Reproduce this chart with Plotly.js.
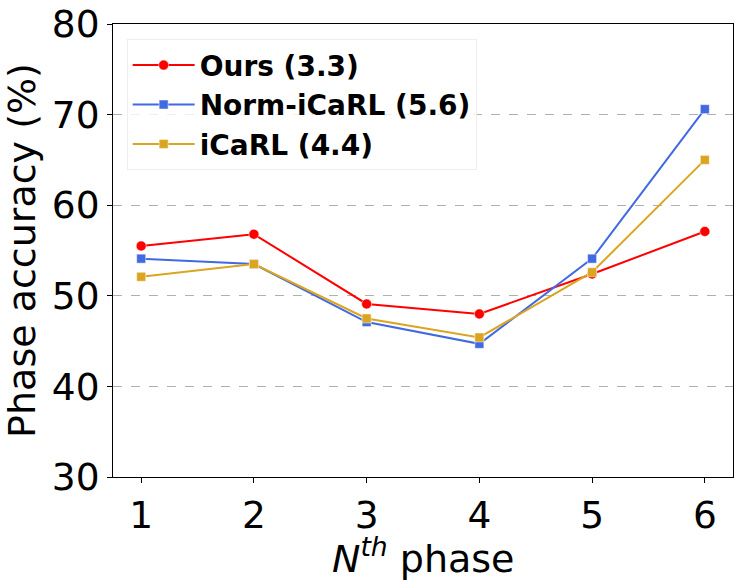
<!DOCTYPE html>
<html><head><meta charset="utf-8">
<script src="https://cdn.plot.ly/plotly-3.0.1.min.js"></script>
<style>body{margin:0;padding:0;background:#fff}#c{width:746px;height:588px}</style>
</head><body><div id="c"></div>
<script>
const phases = [1, 2, 3, 4, 5, 6];
const ours = [55.5, 56.8, 49.1, 48.0, 52.4, 57.1];
const normIcarl = [54.1, 53.5, 47.1, 44.7, 54.1, 70.6];
const icarl = [52.1, 53.5, 47.5, 45.4, 52.6, 65.0];
const names = ['Ours (3.3)', 'Norm-iCaRL (5.6)', 'iCaRL (4.4)'];
const colors = ['#ff0000', '#4169e1', '#daa520'];
const symbols = ['circle', 'square', 'square'];
const series = [ours, normIcarl, icarl];
const xTitle = '<i>N</i><sup><i>th</i></sup> phase';
const yTitle = 'Phase accuracy (%)';

const traces = series.map((s, i) => ({
  x: phases, y: s, name: names[i], type: 'scatter', mode: 'lines+markers',
  line: {color: colors[i], width: 2},
  marker: {color: colors[i], symbol: symbols[i], size: i === 0 ? 10 : 9,
           line: {color: '#ffffff', width: 0.5}}
}));

const font = "'DejaVu Sans', sans-serif";
const layout = {
  width: 746, height: 588,
  margin: {l: 113, r: 13, t: 24, b: 111},
  paper_bgcolor: '#fff', plot_bgcolor: '#fff',
  showlegend: true,
  font: {family: font, color: '#000'},
  xaxis: {
    range: [0.75, 6.25], tickvals: phases, ticktext: phases.map(String),
    showgrid: false, zeroline: false,
    showline: true, linecolor: '#000', linewidth: 1, mirror: true,
    ticks: 'outside', ticklen: 5, tickcolor: '#000',
    tickfont: {size: 37.5, family: font, color: '#000'}
  },
  yaxis: {
    range: [30, 80], tickvals: [30, 40, 50, 60, 70, 80],
    showgrid: true, gridcolor: '#b0b0b0', griddash: 'dash', gridwidth: 1,
    zeroline: false,
    showline: true, linecolor: '#000', linewidth: 1, mirror: true,
    ticks: 'outside', ticklen: 5, tickcolor: '#000',
    tickfont: {size: 37.5, family: font, color: '#000'},
    title: {text: yTitle, font: {size: 38, family: font, color: '#000'}, standoff: 4}
  },
  annotations: [{
    text: xTitle, xref: 'paper', yref: 'paper', x: 0.5, y: 0,
    xanchor: 'center', yanchor: 'middle', yshift: -79, showarrow: false,
    font: {size: 38, family: font, color: '#000'}
  }],
  legend: {
    x: 0.022, y: 0.966, xanchor: 'left', yanchor: 'top',
    bgcolor: 'rgba(255,255,255,0.8)', bordercolor: '#eeeeee', borderwidth: 1,
    font: {size: 28, family: font, color: '#000', weight: 'bold'},
    itemwidth: 62, tracegroupgap: 0
  }
};
Plotly.newPlot('c', traces, layout, {displayModeBar: false, staticPlot: true});
</script></body></html>
